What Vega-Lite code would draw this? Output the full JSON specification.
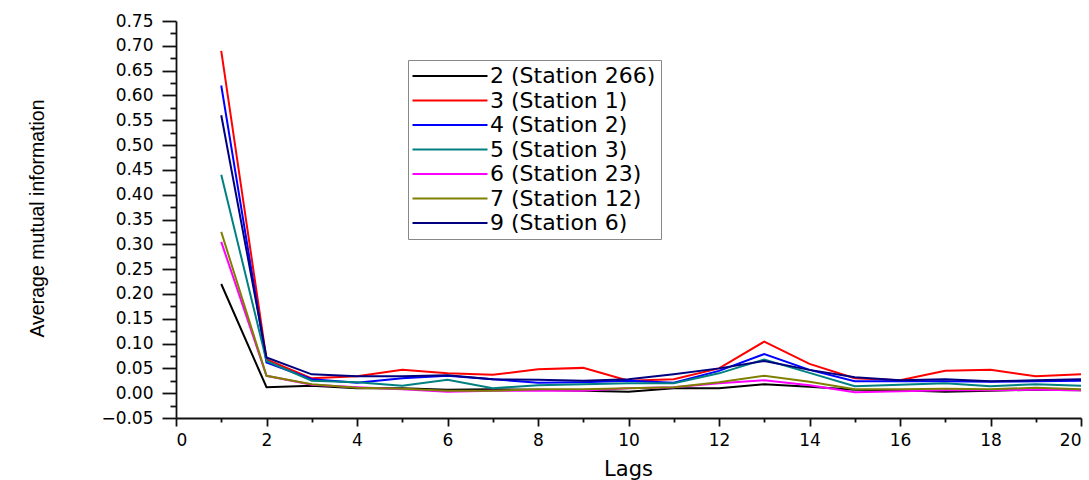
{
  "$schema": "https://vega.github.io/schema/vega-lite/v6.json",
  "width": 905,
  "height": 397,
  "autosize": {"type": "none"},
  "padding": {"left": 176, "top": 21, "right": 8, "bottom": 62},
  "background": "white",
  "config": {
    "view": {"stroke": null},
    "axis": {
      "labelFont": "DejaVu Sans",
      "labelFontSize": 17,
      "labelColor": "black",
      "tickColor": "#111111",
      "domainColor": "#111111",
      "domainWidth": 1.8,
      "tickWidth": 1.8,
      "grid": false
    }
  },
  "data": {
    "values": [
      {"lag": 1, "s": "2 (Station 266)", "v": 0.22}, {"lag": 2, "s": "2 (Station 266)", "v": 0.012}, {"lag": 3, "s": "2 (Station 266)", "v": 0.015}, {"lag": 4, "s": "2 (Station 266)", "v": 0.010}, {"lag": 5, "s": "2 (Station 266)", "v": 0.010}, {"lag": 6, "s": "2 (Station 266)", "v": 0.007}, {"lag": 7, "s": "2 (Station 266)", "v": 0.008}, {"lag": 8, "s": "2 (Station 266)", "v": 0.007}, {"lag": 9, "s": "2 (Station 266)", "v": 0.005}, {"lag": 10, "s": "2 (Station 266)", "v": 0.003}, {"lag": 11, "s": "2 (Station 266)", "v": 0.010}, {"lag": 12, "s": "2 (Station 266)", "v": 0.010}, {"lag": 13, "s": "2 (Station 266)", "v": 0.018}, {"lag": 14, "s": "2 (Station 266)", "v": 0.013}, {"lag": 15, "s": "2 (Station 266)", "v": 0.007}, {"lag": 16, "s": "2 (Station 266)", "v": 0.006}, {"lag": 17, "s": "2 (Station 266)", "v": 0.003}, {"lag": 18, "s": "2 (Station 266)", "v": 0.005}, {"lag": 19, "s": "2 (Station 266)", "v": 0.007}, {"lag": 20, "s": "2 (Station 266)", "v": 0.006},

      {"lag": 1, "s": "3 (Station 1)", "v": 0.69}, {"lag": 2, "s": "3 (Station 1)", "v": 0.068}, {"lag": 3, "s": "3 (Station 1)", "v": 0.030}, {"lag": 4, "s": "3 (Station 1)", "v": 0.034}, {"lag": 5, "s": "3 (Station 1)", "v": 0.047}, {"lag": 6, "s": "3 (Station 1)", "v": 0.040}, {"lag": 7, "s": "3 (Station 1)", "v": 0.037}, {"lag": 8, "s": "3 (Station 1)", "v": 0.048}, {"lag": 9, "s": "3 (Station 1)", "v": 0.051}, {"lag": 10, "s": "3 (Station 1)", "v": 0.025}, {"lag": 11, "s": "3 (Station 1)", "v": 0.028}, {"lag": 12, "s": "3 (Station 1)", "v": 0.050}, {"lag": 13, "s": "3 (Station 1)", "v": 0.104}, {"lag": 14, "s": "3 (Station 1)", "v": 0.059}, {"lag": 15, "s": "3 (Station 1)", "v": 0.030}, {"lag": 16, "s": "3 (Station 1)", "v": 0.026}, {"lag": 17, "s": "3 (Station 1)", "v": 0.045}, {"lag": 18, "s": "3 (Station 1)", "v": 0.047}, {"lag": 19, "s": "3 (Station 1)", "v": 0.034}, {"lag": 20, "s": "3 (Station 1)", "v": 0.038},

      {"lag": 1, "s": "4 (Station 2)", "v": 0.62}, {"lag": 2, "s": "4 (Station 2)", "v": 0.062}, {"lag": 3, "s": "4 (Station 2)", "v": 0.028}, {"lag": 4, "s": "4 (Station 2)", "v": 0.021}, {"lag": 5, "s": "4 (Station 2)", "v": 0.030}, {"lag": 6, "s": "4 (Station 2)", "v": 0.035}, {"lag": 7, "s": "4 (Station 2)", "v": 0.028}, {"lag": 8, "s": "4 (Station 2)", "v": 0.021}, {"lag": 9, "s": "4 (Station 2)", "v": 0.022}, {"lag": 10, "s": "4 (Station 2)", "v": 0.025}, {"lag": 11, "s": "4 (Station 2)", "v": 0.021}, {"lag": 12, "s": "4 (Station 2)", "v": 0.045}, {"lag": 13, "s": "4 (Station 2)", "v": 0.079}, {"lag": 14, "s": "4 (Station 2)", "v": 0.047}, {"lag": 15, "s": "4 (Station 2)", "v": 0.024}, {"lag": 16, "s": "4 (Station 2)", "v": 0.024}, {"lag": 17, "s": "4 (Station 2)", "v": 0.024}, {"lag": 18, "s": "4 (Station 2)", "v": 0.023}, {"lag": 19, "s": "4 (Station 2)", "v": 0.024}, {"lag": 20, "s": "4 (Station 2)", "v": 0.025},

      {"lag": 1, "s": "5 (Station 3)", "v": 0.44}, {"lag": 2, "s": "5 (Station 3)", "v": 0.065}, {"lag": 3, "s": "5 (Station 3)", "v": 0.025}, {"lag": 4, "s": "5 (Station 3)", "v": 0.022}, {"lag": 5, "s": "5 (Station 3)", "v": 0.015}, {"lag": 6, "s": "5 (Station 3)", "v": 0.027}, {"lag": 7, "s": "5 (Station 3)", "v": 0.010}, {"lag": 8, "s": "5 (Station 3)", "v": 0.016}, {"lag": 9, "s": "5 (Station 3)", "v": 0.018}, {"lag": 10, "s": "5 (Station 3)", "v": 0.020}, {"lag": 11, "s": "5 (Station 3)", "v": 0.020}, {"lag": 12, "s": "5 (Station 3)", "v": 0.040}, {"lag": 13, "s": "5 (Station 3)", "v": 0.068}, {"lag": 14, "s": "5 (Station 3)", "v": 0.041}, {"lag": 15, "s": "5 (Station 3)", "v": 0.014}, {"lag": 16, "s": "5 (Station 3)", "v": 0.017}, {"lag": 17, "s": "5 (Station 3)", "v": 0.020}, {"lag": 18, "s": "5 (Station 3)", "v": 0.014}, {"lag": 19, "s": "5 (Station 3)", "v": 0.018}, {"lag": 20, "s": "5 (Station 3)", "v": 0.015},

      {"lag": 1, "s": "6 (Station 23)", "v": 0.305}, {"lag": 2, "s": "6 (Station 23)", "v": 0.035}, {"lag": 3, "s": "6 (Station 23)", "v": 0.017}, {"lag": 4, "s": "6 (Station 23)", "v": 0.012}, {"lag": 5, "s": "6 (Station 23)", "v": 0.008}, {"lag": 6, "s": "6 (Station 23)", "v": 0.003}, {"lag": 7, "s": "6 (Station 23)", "v": 0.005}, {"lag": 8, "s": "6 (Station 23)", "v": 0.005}, {"lag": 9, "s": "6 (Station 23)", "v": 0.005}, {"lag": 10, "s": "6 (Station 23)", "v": 0.010}, {"lag": 11, "s": "6 (Station 23)", "v": 0.012}, {"lag": 12, "s": "6 (Station 23)", "v": 0.020}, {"lag": 13, "s": "6 (Station 23)", "v": 0.026}, {"lag": 14, "s": "6 (Station 23)", "v": 0.016}, {"lag": 15, "s": "6 (Station 23)", "v": 0.002}, {"lag": 16, "s": "6 (Station 23)", "v": 0.004}, {"lag": 17, "s": "6 (Station 23)", "v": 0.006}, {"lag": 18, "s": "6 (Station 23)", "v": 0.006}, {"lag": 19, "s": "6 (Station 23)", "v": 0.007}, {"lag": 20, "s": "6 (Station 23)", "v": 0.006},

      {"lag": 1, "s": "7 (Station 12)", "v": 0.325}, {"lag": 2, "s": "7 (Station 12)", "v": 0.035}, {"lag": 3, "s": "7 (Station 12)", "v": 0.018}, {"lag": 4, "s": "7 (Station 12)", "v": 0.011}, {"lag": 5, "s": "7 (Station 12)", "v": 0.009}, {"lag": 6, "s": "7 (Station 12)", "v": 0.005}, {"lag": 7, "s": "7 (Station 12)", "v": 0.005}, {"lag": 8, "s": "7 (Station 12)", "v": 0.008}, {"lag": 9, "s": "7 (Station 12)", "v": 0.008}, {"lag": 10, "s": "7 (Station 12)", "v": 0.010}, {"lag": 11, "s": "7 (Station 12)", "v": 0.012}, {"lag": 12, "s": "7 (Station 12)", "v": 0.022}, {"lag": 13, "s": "7 (Station 12)", "v": 0.035}, {"lag": 14, "s": "7 (Station 12)", "v": 0.023}, {"lag": 15, "s": "7 (Station 12)", "v": 0.008}, {"lag": 16, "s": "7 (Station 12)", "v": 0.008}, {"lag": 17, "s": "7 (Station 12)", "v": 0.009}, {"lag": 18, "s": "7 (Station 12)", "v": 0.008}, {"lag": 19, "s": "7 (Station 12)", "v": 0.011}, {"lag": 20, "s": "7 (Station 12)", "v": 0.008},

      {"lag": 1, "s": "9 (Station 6)", "v": 0.56}, {"lag": 2, "s": "9 (Station 6)", "v": 0.072}, {"lag": 3, "s": "9 (Station 6)", "v": 0.038}, {"lag": 4, "s": "9 (Station 6)", "v": 0.034}, {"lag": 5, "s": "9 (Station 6)", "v": 0.034}, {"lag": 6, "s": "9 (Station 6)", "v": 0.036}, {"lag": 7, "s": "9 (Station 6)", "v": 0.028}, {"lag": 8, "s": "9 (Station 6)", "v": 0.027}, {"lag": 9, "s": "9 (Station 6)", "v": 0.025}, {"lag": 10, "s": "9 (Station 6)", "v": 0.028}, {"lag": 11, "s": "9 (Station 6)", "v": 0.038}, {"lag": 12, "s": "9 (Station 6)", "v": 0.050}, {"lag": 13, "s": "9 (Station 6)", "v": 0.065}, {"lag": 14, "s": "9 (Station 6)", "v": 0.047}, {"lag": 15, "s": "9 (Station 6)", "v": 0.032}, {"lag": 16, "s": "9 (Station 6)", "v": 0.026}, {"lag": 17, "s": "9 (Station 6)", "v": 0.028}, {"lag": 18, "s": "9 (Station 6)", "v": 0.024}, {"lag": 19, "s": "9 (Station 6)", "v": 0.026}, {"lag": 20, "s": "9 (Station 6)", "v": 0.028}
    ]
  },
  "layer": [
    {
      "mark": {"type": "line", "strokeWidth": 2},
      "encoding": {
        "x": {
          "field": "lag", "type": "quantitative",
          "scale": {"domain": [0, 20], "nice": false},
          "axis": {
            "values": [0, 2, 4, 6, 8, 10, 12, 14, 16, 18, 20],
            "tickSize": 8, "labelPadding": 6, "format": "d",
            "title": "Lags", "titleFont": "DejaVu Sans", "titleFontSize": 21,
            "titleFontWeight": "normal", "titleColor": "black",
            "titleX": 452, "titleY": 51, "titleBaseline": "middle", "titleAlign": "center"
          }
        },
        "y": {
          "field": "v", "type": "quantitative",
          "scale": {"domain": [-0.05, 0.75], "nice": false, "zero": false},
          "axis": {
            "values": [-0.05, 0, 0.05, 0.1, 0.15, 0.2, 0.25, 0.3, 0.35, 0.4, 0.45, 0.5, 0.55, 0.6, 0.65, 0.7, 0.75],
            "format": ".2f", "tickSize": 14, "labelPadding": 9,
            "title": "Average mutual information",
            "titleFont": "Liberation Sans", "titleFontSize": 19.5,
            "titleFontWeight": "normal", "titleColor": "black",
            "titleX": -139, "titleY": 197, "titleBaseline": "middle", "titleAngle": -90
          }
        },
        "color": {
          "field": "s", "type": "nominal",
          "scale": {
            "domain": ["2 (Station 266)", "3 (Station 1)", "4 (Station 2)", "5 (Station 3)", "6 (Station 23)", "7 (Station 12)", "9 (Station 6)"],
            "range": ["#000000", "#FF0000", "#0000FF", "#008080", "#FF00FF", "#808000", "#000080"]
          },
          "legend": {
            "title": null, "orient": "none", "legendX": 232, "legendY": 39,
            "symbolType": "M-7.5,0H7.5", "symbolSize": 100, "symbolStrokeWidth": 2,
            "symbolOffset": 26,
            "labelFont": "DejaVu Sans", "labelFontSize": 22, "labelColor": "black",
            "labelOffset": 29, "rowPadding": 2.5, "padding": 5,
            "strokeColor": "#888888", "fillColor": "white", "labelLimit": 400
          }
        }
      }
    },
    {
      "mark": {"type": "line", "opacity": 0},
      "encoding": {
        "x": {
          "field": "lag", "type": "quantitative",
          "axis": {
            "orient": "bottom", "values": [1, 3, 5, 7, 9, 11, 13, 15, 17, 19],
            "labels": false, "domain": false, "tickSize": 4, "title": null
          }
        },
        "y": {
          "field": "v", "type": "quantitative",
          "axis": {
            "orient": "left",
            "values": [-0.025, 0.025, 0.075, 0.125, 0.175, 0.225, 0.275, 0.325, 0.375, 0.425, 0.475, 0.525, 0.575, 0.625, 0.675, 0.725],
            "labels": false, "domain": false, "tickSize": 6, "title": null
          }
        },
        "detail": {"field": "s"}
      }
    }
  ],
  "resolve": {"axis": {"x": "independent", "y": "independent"}}
}
